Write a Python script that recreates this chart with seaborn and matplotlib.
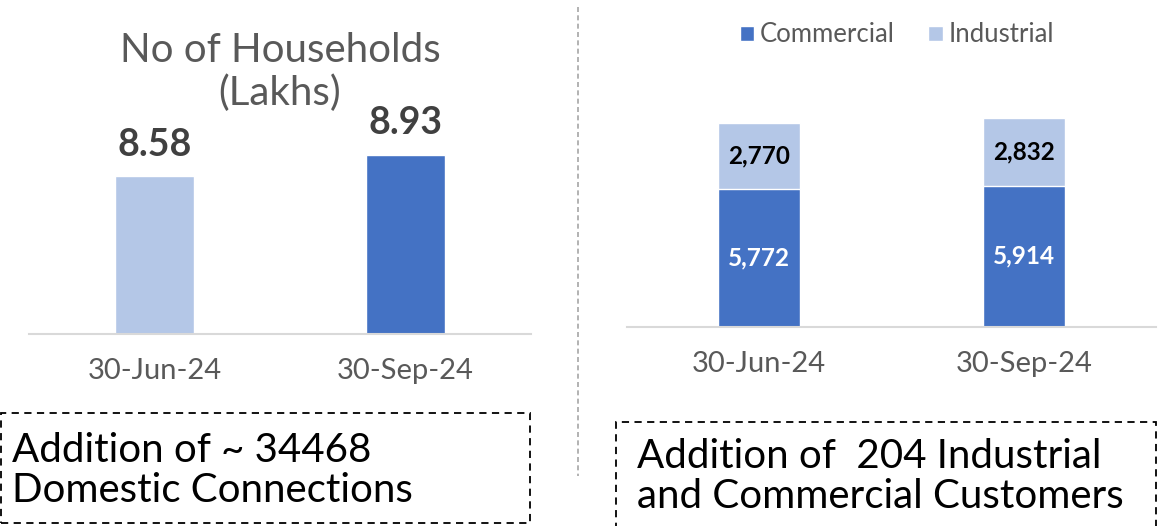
import matplotlib
matplotlib.use("Agg")
import matplotlib.pyplot as plt
import seaborn as sns
import pandas as pd
from matplotlib.patches import Rectangle, Patch
from matplotlib.lines import Line2D

# dados do gráfico
datas = ["30-Jun-24", "30-Sep-24"]
domicilios = [8.58, 8.93]
comercial = [5772, 5914]
industrial = [2770, 2832]

azul = "#4472C4"
azul_claro = "#B4C7E7"

sns.set_theme(style="white")
plt.rcParams['font.family'] = ['Lato', 'DejaVu Sans']

fig = plt.figure(figsize=(11.61, 5.26), dpi=100)

# painel da esquerda: número de domicílios
ax1 = fig.add_axes([29 / 1161, 192 / 526, 502 / 1161, 214 / 526])
df1 = pd.DataFrame({"data": datas, "valor": domicilios})
sns.barplot(data=df1, x="data", y="valor", hue="data", palette=[azul_claro, azul],
            width=0.315, saturation=1, legend=False, ax=ax1)
ax1.set_ylim(6, 9.5)
ax1.set_xlim(-0.5, 1.5)
for i, v in enumerate(domicilios):
    ax1.text(i, v + 0.24, f"{v:.2f}", ha="center", va="bottom", fontsize=27,
             fontweight="bold", color="#404040")

# painel da direita: comercial + industrial empilhado
ax2 = fig.add_axes([627 / 1161, 199 / 526, 529 / 1161, 239 / 526])
totais = [c + i for c, i in zip(comercial, industrial)]
df2 = pd.DataFrame({"data": datas, "total": totais, "comercial": comercial})
sns.barplot(data=df2, x="data", y="total", color=azul_claro, width=0.31,
            saturation=1, ax=ax2)
sns.barplot(data=df2, x="data", y="comercial", color=azul, width=0.31,
            saturation=1, ax=ax2)
ax2.set_ylim(0, 10000)
ax2.set_xlim(-0.5, 1.5)
for i, (c, ind) in enumerate(zip(comercial, industrial)):
    ax2.text(i, c / 2, f"{c:,}", ha="center", va="center", fontsize=17.5,
             fontweight="bold", color="white")
    ax2.text(i, c + ind / 2, f"{ind:,}", ha="center", va="center", fontsize=17.5,
             fontweight="bold", color="black")

for ax in (ax1, ax2):
    for s in ["left", "right", "top"]:
        ax.spines[s].set_visible(False)
    ax.spines["bottom"].set_color("#D9D9D9")
    ax.spines["bottom"].set_linewidth(1.5)
    ax.set_xlabel("")
    ax.set_ylabel("")
    ax.set_yticks([])
    ax.tick_params(axis="x", length=0, pad=17, labelsize=21, labelcolor="#595959")
    ax.patch.set_alpha(0)

# título do painel esquerdo (duas linhas separadas)
fig.text(280 / 1161, 1 - 50 / 526, "No of Households", ha="center",
         va="center", fontsize=29, color="#595959")
fig.text(280 / 1161, 1 - 93 / 526, "(Lakhs)", ha="center",
         va="center", fontsize=29, color="#595959")

# legenda do painel direito
handles = [Patch(facecolor=azul, label="Commercial"),
           Patch(facecolor=azul_claro, label="Industrial")]
fig.legend(handles=handles, loc="center", bbox_to_anchor=(897 / 1161, 1 - 35 / 526),
           ncol=2, frameon=False, fontsize=18.5, handlelength=0.55, handleheight=0.55,
           handletextpad=0.25, columnspacing=1.3, labelcolor="#595959")

# separador tracejado
fig.add_artist(Line2D([578 / 1161, 578 / 1161], [1 - 7 / 526, 1 - 476 / 526],
                      transform=fig.transFigure, color="#A6A6A6", lw=1.2,
                      linestyle=(0, (3, 2))))

# caixas de texto tracejadas
fig.add_artist(Rectangle((1 / 1161, 1 - 523 / 526), 529 / 1161, 110 / 526,
                         transform=fig.transFigure, fill=False, edgecolor="black",
                         lw=1.3, linestyle=(0, (4, 3))))
fig.add_artist(Rectangle((616 / 1161, -0.02), 540 / 1161, 1 - 422 / 526 + 0.02,
                         transform=fig.transFigure, fill=False, edgecolor="black",
                         lw=1.3, linestyle=(0, (4, 3))))

fig.text(12 / 1161, 1 - 470 / 526, "Addition of ~ 34468\nDomestic Connections",
         ha="left", va="center", fontsize=29, color="black", linespacing=1.1)
fig.text(637 / 1161, 1 - 476 / 526, "Addition of  204 Industrial\nand Commercial Customers",
         ha="left", va="center", fontsize=29, color="black", linespacing=1.1)

fig.savefig("out.png", dpi=100)
